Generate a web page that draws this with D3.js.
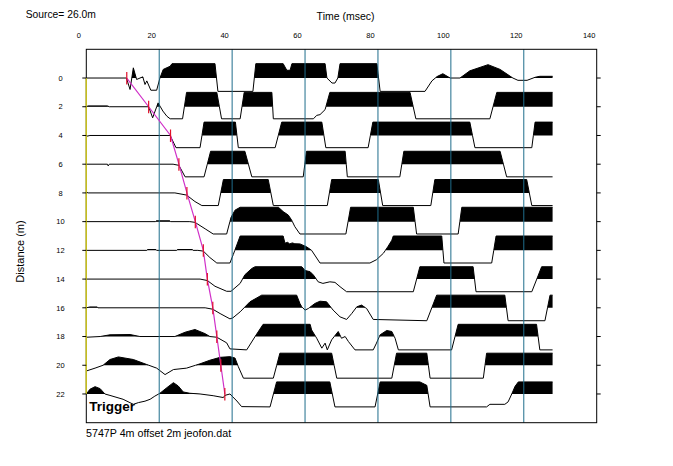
<!DOCTYPE html>
<html><head><meta charset="utf-8">
<script src="https://cdn.jsdelivr.net/npm/d3@7"></script>
<style>
body{margin:0;background:#fff;}
svg{display:block;font-family:"Liberation Sans",Arial,sans-serif;}
</style></head>
<body><svg id="chart" width="673" height="466"></svg>
<script>
// ---- data ----
const distances = [0,2,4,6,8,10,12,14,16,18,20,22];
const timeTicks = [0,20,40,60,80,100,120,140];
const gridTimes = [20,40,60,80,100,120];
const pickTimes = [11.1,17.1,23.1,25.4,27.6,29.9,32.1,33.2,34.7,35.8,36.9,38.0];

// traces: [time ms, normalized amplitude]
const trace0 = [[0,0],[11.0,0],[12.0,-0.8],[12.9,0.71],[13.8,-0.1],[15.5,0.08],[16.1,-0.45],[16.6,-0.2],[17.7,-0.85],[19.3,-0.85],[20.2,0],[21.1,0.6],[23.0,0.82],[23.5,1],[35.3,1],[36.1,-0.93],[45.7,-0.93],[46.5,1],[54.0,1],[55.0,0.54],[55.9,0.54],[56.4,1],[65.5,1],[66.0,0],[67.4,-0.35],[68.2,-0.35],[69.0,0],[69.6,1],[79.7,1],[80.6,-0.93],[92.9,-0.93],[94.8,-0.2],[96.2,0.1],[97.8,0.3],[99.8,0],[102.5,0],[105.2,0.5],[110.2,0.93],[113.5,0.6],[117.0,0],[118.4,-0.16],[120.9,-0.16],[123.1,0.05],[124.4,0.12],[127.9,0.12]];
const trace2 = [[0,0],[0.5,0.06],[5.8,0.06],[6.3,0],[17.1,0],[18.2,-0.77],[19.7,0.27],[21.0,-0.3],[22.1,-0.66],[23.0,-0.84],[26.4,-0.84],[27.5,1],[35.8,1],[37.1,-0.84],[42.2,-0.84],[43.3,1],[50.9,1],[51.3,-0.84],[62.3,-0.84],[63.2,-0.6],[64.1,-0.55],[65.5,-0.2],[66.8,1],[88.8,1],[90.4,-0.84],[110.7,-0.84],[112.6,1],[127.9,1]];
const trace4 = [[0,-0.06],[1,0],[23.0,0],[24.6,-0.85],[31.2,-0.85],[32.3,0.93],[40.9,0.93],[41.7,-0.85],[51.8,-0.85],[53.6,0.93],[64.6,0.93],[65.7,-0.85],[77.3,-0.85],[78.6,0.93],[105.2,0.93],[106.6,-0.85],[122.2,-0.85],[123.1,0.93],[127.9,0.93]];
const trace6 = [[0,0],[5.8,0],[6.0,-0.12],[6.3,0],[23.8,0],[25.4,-0.08],[27.1,-0.88],[32.3,-0.88],[34.1,0.9],[43.5,0.9],[45.4,-0.88],[59.5,-0.88],[60.4,0.9],[71.0,0.9],[71.6,-0.88],[86.0,-0.88],[87.1,0.9],[113.5,0.9],[115.3,-0.88],[127.9,-0.88]];
const trace8 = [[0,0.05],[0.5,0],[24.3,0],[27.5,-0.15],[29.8,-0.6],[31.7,-0.88],[36.2,-0.88],[37.6,0.93],[49.9,0.93],[51.3,-0.88],[66.1,-0.88],[67.3,0.93],[80.1,0.93],[81.3,-0.88],[94.5,-0.88],[95.6,0.93],[120.8,0.93],[122.2,-0.88],[127.9,-0.88]];
const trace10 = [[0,0],[19.0,0],[19.2,0.06],[22.9,0.06],[23.1,0],[28.4,0],[29.8,-0.05],[32.6,-0.5],[34.8,-0.86],[38.5,-0.86],[39.7,0.3],[40.8,0.8],[42.2,1],[52.7,1],[54.0,0.7],[55.4,0.46],[56.3,0.12],[57.2,-0.35],[58.6,-0.86],[71.2,-0.86],[72.5,1],[89.7,1],[90.6,-0.86],[102.0,-0.86],[103.0,1],[127.9,1]];
const trace12 = [[0,0],[16.6,0],[16.8,0.06],[19.1,0.06],[19.3,0],[24.8,0],[25.0,0.06],[29.1,0.06],[29.3,0],[30.6,0],[32.1,-0.05],[33.9,-0.5],[35.8,-0.88],[39.4,-0.88],[40.3,-0.3],[42.2,1],[54.0,1],[54.5,0.5],[55.2,0.56],[55.8,0.45],[56.5,0.52],[57.2,0.46],[58.6,0.45],[60.4,0.25],[61.8,0],[64.1,-0.88],[77.8,-0.88],[79.6,-0.65],[81.5,-0.2],[82.7,0.25],[83.8,0.7],[84.2,1],[97.5,1],[98.1,-0.88],[111.2,-0.88],[112.4,1],[127.9,1]];
const trace14 = [[0,0],[31.2,0],[33.2,-0.1],[35.3,-0.5],[38.5,-0.85],[39.7,-0.85],[42.2,-0.3],[43.5,0.3],[45.4,0.74],[46.3,0.86],[59.1,0.86],[60.0,0.6],[61.4,0.51],[62.3,0.28],[63.6,-0.19],[64.9,-0.3],[66.8,-0.19],[68.2,-0.23],[69.6,-0.53],[71.4,-0.88],[89.7,-0.88],[91.5,0.86],[106.1,0.86],[106.9,-0.88],[122.2,-0.88],[124.9,0.86],[127.9,0.86]];
const trace16 = [[0,0],[1,0.06],[3,0.06],[3.2,0],[32.6,0],[34.7,-0.1],[36.7,-0.4],[39.4,-0.77],[40.2,-0.7],[42.2,-0.28],[44.9,0.42],[48.1,0.88],[57.7,0.88],[58.6,0.3],[59.1,0.07],[60.0,-0.16],[60.9,-0.05],[62.7,0.3],[64.1,0.46],[65.9,0.42],[67.7,-0.16],[69.6,-0.63],[71.4,-0.81],[72.8,-0.4],[74.2,0.07],[75.5,0.19],[76.9,-0.05],[78.7,-0.81],[93.4,-0.9],[96.1,0.88],[114.8,0.88],[115.7,-0.9],[125.8,-0.9],[127.2,0.88],[127.9,0.88]];
const trace18 = [[0,-0.05],[3.8,0],[6.5,0.12],[12.0,0.14],[14.7,0],[24.3,0],[27.1,0.3],[29.8,0.49],[32.6,0.2],[33.9,0],[35.8,-0.05],[38.5,-0.44],[39.4,-0.86],[44.0,-0.93],[46.3,0],[48.5,0.85],[61.4,0.85],[61.8,0.46],[63.2,-0.12],[64.6,-0.81],[65.5,-0.46],[66.1,-0.93],[67.3,-0.23],[69.1,0.35],[70.0,-0.12],[71.0,0],[71.9,-0.35],[73.7,-0.93],[78.7,-0.93],[79.6,-0.46],[80.6,0.12],[82.4,0.42],[83.8,0.35],[84.7,-0.12],[85.6,-0.93],[100.2,-0.93],[102.0,0.85],[123.5,0.85],[124.4,-0.93],[127.9,-0.93]];
const trace20 = [[0,-0.4],[2.4,-0.2],[4.6,0],[6.5,0.4],[8.8,0.58],[12.9,0.4],[16.6,0.05],[19.3,-0.2],[21.6,-0.65],[23.9,-0.3],[27.5,-0.2],[31.2,0.1],[33.9,0.35],[36.7,0.55],[39.4,0.6],[40.8,0.5],[41.7,-0.1],[43.1,-0.9],[51.3,-0.9],[53.1,0.84],[67.3,0.84],[68.7,-0.9],[83.8,-0.9],[85.1,0.84],[93.4,0.84],[94.3,-0.9],[108.9,-0.9],[109.8,0.84],[127.9,0.84]];
const trace22 = [[0,0],[1.0,0.33],[2.4,0.51],[3.8,0.37],[5.1,0],[6.5,-0.1],[10.1,-0.37],[12.9,-0.72],[14.3,-0.6],[16.1,-0.5],[17.5,-0.37],[18.8,-0.15],[20.2,0.05],[22.1,0.44],[23.9,0.79],[25.2,0.56],[26.6,0.14],[28.4,0.05],[31.2,0],[34.8,-0.12],[37.6,-0.25],[38.0,-0.1],[39.4,0],[41.3,-0.49],[42.6,-0.88],[50.4,-0.9],[52.2,0.84],[66.8,0.84],[68.2,-0.9],[79.2,-0.9],[80.6,0.84],[91.5,0.84],[93.4,0.6],[94.3,-0.9],[109.8,-0.9],[110.7,-0.72],[114.8,-0.72],[115.7,-0.55],[116.7,0],[117.6,0.53],[118.5,0.84],[127.9,0.84]];
const traces = [trace0,trace2,trace4,trace6,trace8,trace10,trace12,trace14,trace16,trace18,trace20,trace22];

// ---- drawing ----
const svg = d3.select("#chart");
const x = d3.scaleLinear().domain([0,140]).range([86.3,596.7]);
const y = d3.scaleLinear().domain([-2,24]).range([49.3,422.7]);

// insert zero crossings for correct fill
function withCrossings(pts){
  const out=[];
  for(let i=0;i<pts.length;i++){
    out.push(pts[i]);
    if(i<pts.length-1){
      const [t1,a1]=pts[i],[t2,a2]=pts[i+1];
      if(a1*a2<0){ out.push([t1+(t2-t1)*a1/(a1-a2),0]); }
    }
  }
  return out;
}

const gTr = svg.append("g");
traces.forEach((tr,i)=>{
  const d = distances[i];
  const pts = withCrossings(tr);
  const area = d3.area().x(p=>x(p[0])).y0(y(d)).y1(p=>y(d-Math.max(p[1],0)));
  const line = d3.line().x(p=>x(p[0])).y(p=>y(d-p[1]));
  gTr.append("path").attr("d",area(pts)).attr("fill","#000");
  gTr.append("path").attr("d",line(pts)).attr("fill","none").attr("stroke","#000").attr("stroke-width",1);
});

// grid lines
svg.append("g").selectAll("line").data(gridTimes).join("line")
  .attr("x1",d=>x(d)).attr("x2",d=>x(d)).attr("y1",y(-2)).attr("y2",y(24))
  .attr("stroke","#1f6d8c").attr("stroke-width",1);

// trigger (time zero) line
svg.append("line").attr("x1",x(0)).attr("x2",x(0)).attr("y1",y(0)).attr("y2",y(22))
  .attr("stroke","#d8d020").attr("stroke-width",1.2);

// frame
svg.append("rect").attr("x",x(0)).attr("y",y(-2)).attr("width",x(140)-x(0)).attr("height",y(24)-y(-2))
  .attr("fill","none").attr("stroke","#000").attr("stroke-width",1);
svg.append("line").attr("x1",x(0)).attr("x2",x(0)).attr("y1",y(0)).attr("y2",y(22))
  .attr("stroke","#d8d020").attr("stroke-width",1.2);

// side ticks
const gt = svg.append("g");
distances.forEach(d=>{
  gt.append("line").attr("x1",x(0)-4).attr("x2",x(0)).attr("y1",y(d)).attr("y2",y(d)).attr("stroke","#000");
  gt.append("line").attr("x1",x(140)).attr("x2",x(140)+4).attr("y1",y(d)).attr("y2",y(d)).attr("stroke","#000");
  gt.append("text").attr("x",60.5).attr("y",y(d)+2.7).attr("text-anchor","middle")
    .attr("font-size","7.5px").text(d);
});
// top labels
svg.append("g").selectAll("text").data(timeTicks).join("text")
  .attr("x",d=>x(d)-7.5).attr("y",37.7).attr("text-anchor","middle").attr("font-size","7.5px").text(d=>d);

// pick line
const pickLine = d3.line().x(p=>x(p[0])).y(p=>y(p[1]));
svg.append("path").attr("d",pickLine(pickTimes.map((t,i)=>[t,distances[i]])))
  .attr("fill","none").attr("stroke","#d030c8").attr("stroke-width",1.2);
svg.append("g").selectAll("line").data(pickTimes).join("line")
  .attr("x1",d=>x(d)).attr("x2",d=>x(d))
  .attr("y1",(d,i)=>y(distances[i])-6).attr("y2",(d,i)=>y(distances[i])+6.5)
  .attr("stroke","#e0102a").attr("stroke-width",1.2);

// texts
svg.append("text").attr("x",25.7).attr("y",18).attr("font-size","10.3px").text("Source= 26.0m");
svg.append("text").attr("x",345.6).attr("y",20).attr("text-anchor","middle").attr("font-size","10.5px").text("Time (msec)");
svg.append("text").attr("transform","translate(24,251.5) rotate(-90)").attr("text-anchor","middle")
  .attr("font-size","11px").text("Distance (m)");
svg.append("text").attr("x",89.3).attr("y",410.7).attr("font-size","13.5px").attr("font-weight","bold").text("Trigger");
svg.append("text").attr("x",86).attr("y",436.5).attr("font-size","10.7px").text("5747P 4m offset 2m jeofon.dat");
</script></body></html>
